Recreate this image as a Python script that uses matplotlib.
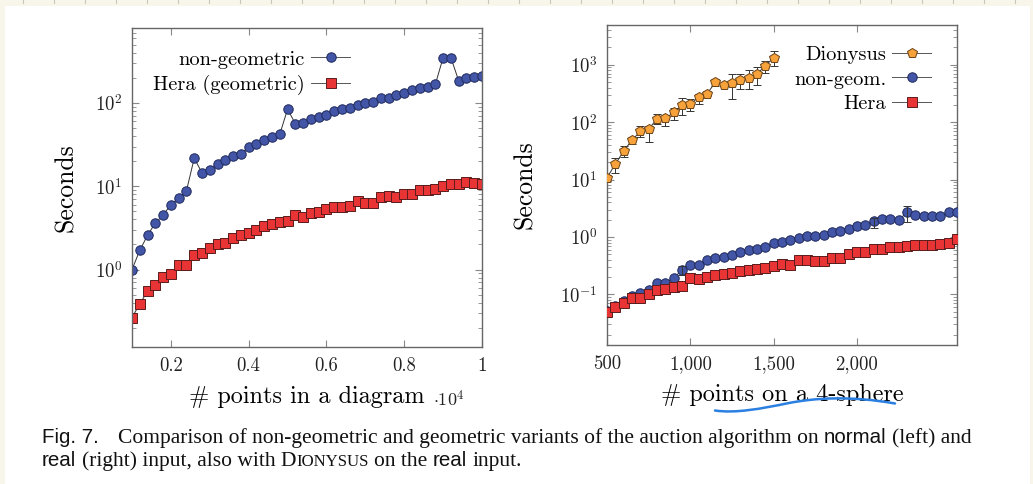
import numpy as np
import matplotlib
matplotlib.use("Agg")
import matplotlib.pyplot as plt
from matplotlib.patches import Rectangle, PathPatch
from matplotlib.path import Path
from matplotlib.lines import Line2D
from matplotlib.ticker import FixedLocator, FuncFormatter, LogLocator, NullFormatter

# ---------------- data ----------------
# Left panel: normal input, x = number of points in a diagram
left_x = [1000, 1200, 1400, 1600, 1800, 2000, 2200, 2400, 2600, 2800,
          3000, 3200, 3400, 3600, 3800, 4000, 4200, 4400, 4600, 4800,
          5000, 5200, 5400, 5600, 5800, 6000, 6200, 6400, 6600, 6800,
          7000, 7200, 7400, 7600, 7800, 8000, 8200, 8400, 8600, 8800,
          9000, 9200, 9400, 9600, 9800, 10000]
left_nongeom = [1.0, 1.7, 2.58, 3.63, 4.49, 6.03, 7.18, 8.79, 21.7, 14.5,
                15.6, 18.7, 20.5, 23.1, 24.4, 29.6, 31.9, 36.3, 39.1, 42.1,
                84, 56.5, 57.5, 63.7, 68.5, 72.4, 80, 84, 88, 93.8,
                101, 104, 115, 116, 124, 132, 145, 153, 157, 167,
                350, 350, 185, 198, 207, 209]
left_hera = [0.265, 0.387, 0.55, 0.66, 0.82, 0.89, 1.12, 1.13, 1.49, 1.6,
             1.82, 2.0, 2.11, 2.42, 2.58, 2.75, 2.96, 3.31, 3.5, 3.7,
             3.87, 4.53, 4.29, 4.79, 4.97, 5.3, 5.6, 5.6, 5.8, 6.67,
             6.37, 6.37, 7.45, 7.59, 7.38, 8.0, 8.0, 9.12, 9.0, 9.29,
             10.2, 10.5, 10.5, 11.1, 10.9, 10.7]

# Right panel: real input, x = number of points on a 4-sphere
right_x = [500, 550, 600, 650, 700, 750, 800, 850, 900, 950,
           1000, 1050, 1100, 1150, 1200, 1250, 1300, 1350, 1400, 1450,
           1500, 1550, 1600, 1650, 1700, 1750, 1800, 1850, 1900, 1950,
           2000, 2050, 2100, 2150, 2200, 2250, 2300, 2350, 2400, 2450,
           2500, 2550, 2600]
dion_x = [500, 550, 600, 650, 700, 750, 800, 850, 900, 950,
          1000, 1050, 1100, 1150, 1200, 1250, 1300, 1350, 1400, 1450, 1500]
dion_y = [10.8, 18.6, 31.3, 48.6, 68.8, 75.5, 114, 116, 147, 195,
          206, 272, 311, 490, 446, 470, 537, 582, 692, 955, 1315]
dion_lo = [1.5, 5.8, 6.4, 6.6, 14.7, 31.3, 23, 31.8, 37, 64,
           50, 67, 31, 67, 29, 216, 163, 212, 258, 243, 385]
dion_hi = [1.0, 5.4, 6.9, 6.2, 15.3, 10.8, 21.7, 16.6, 28, 63,
           42, 35, 40, 63, 31, 213, 146, 210, 224, 181, 379]
right_nongeom = [0.052, 0.064, 0.078, 0.094, 0.108, 0.12, 0.157, 0.161, 0.194, 0.264,
                 0.322, 0.326, 0.394, 0.437, 0.449, 0.486, 0.548, 0.594, 0.611, 0.67,
                 0.777, 0.819, 0.875, 0.973, 1.03, 1.02, 1.08, 1.21, 1.26, 1.40,
                 1.53, 1.62, 1.90, 2.09, 2.07, 1.95, 2.72, 2.38, 2.29, 2.31,
                 2.31, 2.72, 2.72]
right_nongeom_lo = [0, 0, 0, 0, 0, 0, 0, 0, 0, 0.044,
                    0, 0, 0, 0, 0, 0, 0, 0, 0, 0,
                    0, 0, 0, 0, 0, 0, 0, 0, 0, 0,
                    0, 0, 0.44, 0, 0, 0, 0.9, 0, 0, 0,
                    0, 0, 0]
right_nongeom_hi = [0, 0, 0, 0, 0, 0, 0, 0, 0, 0.046,
                    0, 0, 0, 0, 0, 0, 0, 0, 0, 0,
                    0, 0, 0, 0, 0, 0, 0, 0, 0, 0,
                    0, 0, 0.27, 0, 0, 0, 0.74, 0, 0, 0,
                    0, 0, 0]
right_hera = [0.0504, 0.0616, 0.0723, 0.086, 0.0883, 0.1035, 0.118, 0.123, 0.137, 0.141,
              0.194, 0.184, 0.205, 0.216, 0.227, 0.24, 0.253, 0.267, 0.282, 0.293,
              0.313, 0.344, 0.322, 0.394, 0.398, 0.378, 0.378, 0.437, 0.432, 0.5,
              0.548, 0.548, 0.611, 0.627, 0.67, 0.662, 0.697, 0.737, 0.726, 0.737,
              0.756, 0.777, 0.912]

left_xticks = [2000, 4000, 6000, 8000, 10000]
left_xticklabels = ["0.2", "0.4", "0.6", "0.8", "1"]
right_xticks = [500, 1000, 1500, 2000]

# ---------------- styling ----------------
W, H = 1033, 484
plt.rcParams["font.family"] = ["cmr10", "DejaVu Serif"]
plt.rcParams["mathtext.fontset"] = "cm"
plt.rcParams["axes.formatter.use_mathtext"] = True

BLUE = dict(marker="o", ms=6.8, mfc="#4255a6", mec="#1f2a5c", mew=0.7)
RED = dict(marker="s", ms=6.6, mfc="#e83434", mec="#5a1c1c", mew=0.7)
ORANGE = dict(marker="p", ms=7.6, mfc="#f7a23a", mec="#6b4215", mew=0.7)
LINE = dict(color="#333333", lw=0.7)
SPINE = "#666666"

fig = plt.figure(figsize=(W / 100, H / 100), dpi=100)
fig.patch.set_facecolor("#f8f6ea")
fig.add_artist(Rectangle((5 / W, 0), (1030 - 5) / W, (H - 6) / H, transform=fig.transFigure,
                         facecolor="white", edgecolor="none", zorder=-10))
# ruler ticks on top margin
for k in range(34):
    xp = 23 + 31.0 * k
    fig.add_artist(Line2D([xp / W, xp / W], [1, 1 - 3 / H], transform=fig.transFigure,
                          color="#c9c7b6", lw=0.8))


def px_axes(l, t, r, b):
    return fig.add_axes([l / W, 1 - b / H, (r - l) / W, (b - t) / H])


def style_axes(ax):
    ax.set_yscale("log")
    for s in ax.spines.values():
        s.set_color(SPINE)
        s.set_linewidth(1.0)
    ax.tick_params(which="both", direction="in", top=True, right=True, colors="#888888",
                   labelcolor="#222222", labelsize=13.5)
    ax.tick_params(which="major", length=5, width=0.8)
    ax.tick_params(which="minor", length=3, width=0.6)
    ax.tick_params(axis="x", which="major", pad=7)
    ax.tick_params(axis="y", which="major", pad=7)
    ax.yaxis.set_major_locator(LogLocator(base=10, numticks=20))
    ax.yaxis.set_minor_locator(LogLocator(base=10, subs=np.arange(2, 10), numticks=20))
    ax.yaxis.set_minor_formatter(NullFormatter())
    ax.yaxis.set_major_formatter(FuncFormatter(lambda v, p: r"$10^{%d}$" % round(np.log10(v))))
    ax.set_ylabel("Seconds", fontsize=18.5)


# ---------------- left panel ----------------
axL = px_axes(132, 28, 482, 347)
style_axes(axL)
axL.plot(left_x, left_nongeom, label="non-geometric", **LINE, **BLUE)
axL.plot(left_x, left_hera, label="Hera (geometric)", **LINE, **RED)
axL.set_xlim(1000, 10000)
axL.set_ylim(10 ** -0.93, 10 ** 2.9)
axL.xaxis.set_major_locator(FixedLocator(left_xticks))
axL.set_xticklabels(left_xticklabels)
axL.set_xlabel("# points in a diagram", fontsize=17.5, labelpad=8)
axL.yaxis.set_label_coords(-0.155, 0.5)
axL.text(0.952, -0.165, r"$\cdot 10^4$", transform=axL.transAxes, fontsize=13,
         ha="right", va="center", color="#222222")

# ---------------- right panel ----------------
axR = px_axes(607, 25, 957, 345)
style_axes(axR)
axR.plot(dion_x, dion_y, label="Dionysus", **LINE, **ORANGE, zorder=3)
axR.errorbar(dion_x, dion_y, yerr=[dion_lo, dion_hi], fmt="none", ecolor="#333333",
             elinewidth=0.7, capsize=3, capthick=0.7, zorder=2)
axR.plot(right_x, right_nongeom, label="non-geom.", **LINE, **BLUE, zorder=3)
sel = [i for i in range(len(right_x)) if right_nongeom_lo[i] > 0]
axR.errorbar([right_x[i] for i in sel], [right_nongeom[i] for i in sel],
             yerr=[[right_nongeom_lo[i] for i in sel], [right_nongeom_hi[i] for i in sel]],
             fmt="none", ecolor="#333333", elinewidth=0.7, capsize=3, capthick=0.7, zorder=4)
axR.plot(right_x, right_hera, label="Hera", **LINE, **RED, zorder=5)
axR.set_xlim(500, 2600)
axR.set_ylim(10 ** -1.88, 10 ** 3.69)
axR.xaxis.set_major_locator(FixedLocator(right_xticks))
axR.xaxis.set_major_formatter(FuncFormatter(lambda v, p: "{:,}".format(int(v))))
axR.set_xlabel("# points on a 4-sphere", fontsize=17.5, labelpad=8)
axR.yaxis.set_label_coords(-0.2, 0.5)

# legends (text first, marker after, right aligned)
leg_kw = dict(frameon=False, markerfirst=False, fontsize=14.7, handlelength=1.9,
              handletextpad=0.3, labelspacing=0.3, borderaxespad=0.0, borderpad=0.0)
lL = axL.legend(loc="upper right", bbox_to_anchor=(0.623, 0.93), **leg_kw)
lR = axR.legend(loc="upper right", bbox_to_anchor=(0.926, 0.935), **leg_kw)
for lg in (lL, lR):
    for h in lg.legend_handles:
        h.set_color("#555555")

# ---------------- caption ----------------
renderer = fig.canvas.get_renderer()
SERIF = dict(family=["Liberation Serif"], color="#111111")
SANS = dict(family=["Liberation Sans"], color="#111111")


def place(segs, x0, y0, fs):
    x = x0
    for text, kw, size_f, gap in segs:
        t = fig.text(x / W, 1 - y0 / H, text, ha="left", va="baseline", fontsize=fs * size_f, **kw)
        x += t.get_window_extent(renderer).width + gap * fs * 100 / 72
    return x


fs = 15.5
sp = 0.25
line1 = [("Fig. 7.", SANS, 0.95, 0.9),
         ("Comparison of non-geometric and geometric variants of the auction algorithm on", SERIF, 1.0, sp),
         ("normal", SANS, 0.95, sp),
         ("(left) and", SERIF, 1.0, 0)]
line2 = [("real", SANS, 0.95, sp),
         ("(right) input, also with", SERIF, 1.0, sp),
         ("D", SERIF, 1.0, 0.02),
         ("IONYSUS", SERIF, 0.78, sp),
         ("on the", SERIF, 1.0, sp),
         ("real", SANS, 0.95, sp),
         ("input.", SERIF, 1.0, 0)]
place(line1, 42, 443, fs)
place(line2, 42, 466, fs)

# hand-drawn blue underline annotation
verts = [(715, 410.5), (735, 413.5), (760, 409), (789, 403), (815, 398), (850, 395.5), (895, 403.5)]
codes = [Path.MOVETO, Path.CURVE4, Path.CURVE4, Path.CURVE4, Path.CURVE4, Path.CURVE4, Path.CURVE4]
vf = [(vx / W, 1 - vy / H) for vx, vy in verts]
fig.add_artist(PathPatch(Path(vf, codes), transform=fig.transFigure, facecolor="none",
                         edgecolor="#2a7fe0", lw=1.8, capstyle="round"))

fig.savefig("out.png", dpi=100, facecolor=fig.get_facecolor())
